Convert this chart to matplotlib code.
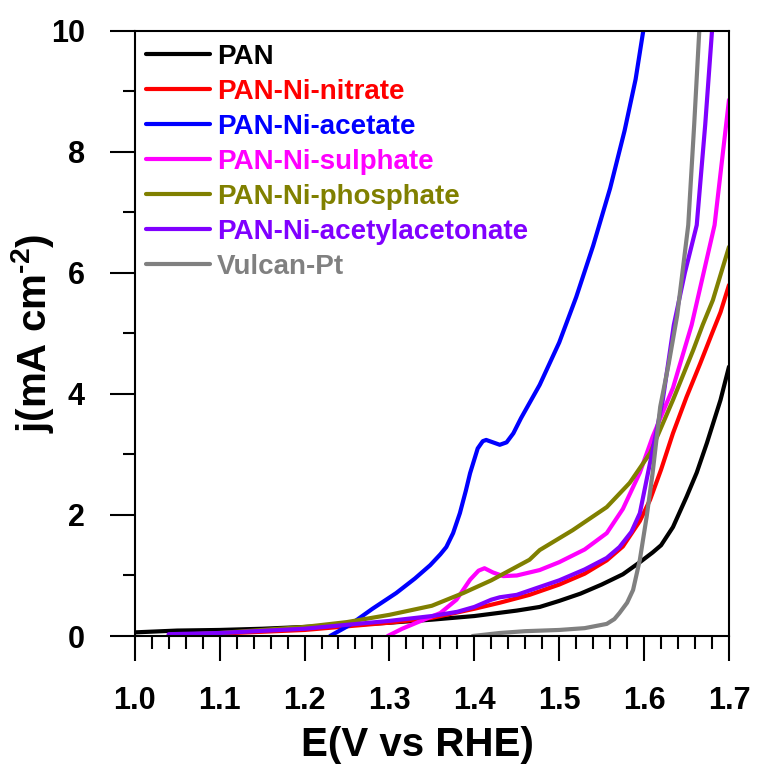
import matplotlib
matplotlib.use("Agg")
import matplotlib.pyplot as plt
from matplotlib.ticker import MultipleLocator, FormatStrFormatter

plt.rcParams['font.family'] = ['Liberation Sans', 'DejaVu Sans']
plt.rcParams['font.weight'] = 'bold'
plt.rcParams['mathtext.fontset'] = 'custom'
plt.rcParams['mathtext.rm'] = 'Liberation Sans'
plt.rcParams['mathtext.bf'] = 'Liberation Sans:bold'
plt.rcParams['mathtext.default'] = 'bf'

# === datos (E en V vs RHE, j en mA cm-2) ===
E_pan = [1.0, 1.05, 1.1, 1.15, 1.2, 1.25, 1.3, 1.35, 1.4, 1.45, 1.477, 1.5,
         1.525, 1.55, 1.575, 1.595, 1.61, 1.62, 1.634, 1.65, 1.662, 1.674,
         1.69, 1.7]
j_pan = [0.06, 0.09, 0.1, 0.12, 0.15, 0.18, 0.22, 0.27, 0.33, 0.42, 0.48, 0.58,
         0.7, 0.85, 1.02, 1.22, 1.38, 1.5, 1.8, 2.3, 2.7, 3.19,
         3.9, 4.45]

E_nitrate = [1.04, 1.1, 1.2, 1.3, 1.35, 1.4, 1.43, 1.465, 1.5, 1.53, 1.556, 1.575,
             1.595, 1.607, 1.62, 1.634, 1.65, 1.666, 1.68, 1.69, 1.7]
j_nitrate = [0.02, 0.04, 0.1, 0.22, 0.3, 0.45, 0.55, 0.68, 0.85, 1.03, 1.25, 1.48,
             1.9, 2.25, 2.75, 3.35, 3.95, 4.5, 5.0, 5.35, 5.8]

E_acetate = [1.23, 1.253, 1.28, 1.308, 1.33, 1.348, 1.36, 1.367, 1.375, 1.383,
             1.39, 1.395, 1.404, 1.41, 1.414, 1.422, 1.43, 1.438, 1.446, 1.455,
             1.465, 1.477, 1.5, 1.52, 1.54, 1.56, 1.577, 1.59, 1.599]
j_acetate = [0.0, 0.18, 0.45, 0.71, 0.95, 1.17, 1.35, 1.47, 1.7, 2.03,
             2.4, 2.69, 3.1, 3.22, 3.24, 3.2, 3.16, 3.2, 3.35, 3.6,
             3.85, 4.15, 4.85, 5.6, 6.45, 7.4, 8.35, 9.2, 10.0]

E_sulphate = [1.298, 1.315, 1.332, 1.36, 1.379, 1.395, 1.405, 1.412, 1.422, 1.434,
              1.45, 1.465, 1.477, 1.5, 1.53, 1.556, 1.575, 1.595, 1.61, 1.634,
              1.656, 1.683, 1.7]
j_sulphate = [0.0, 0.12, 0.22, 0.38, 0.6, 0.93, 1.08, 1.12, 1.05, 0.99,
              1.0, 1.05, 1.09, 1.22, 1.43, 1.7, 2.1, 2.7, 3.29, 4.1,
              5.14, 6.79, 8.86]

E_phosphate = [1.05, 1.1, 1.15, 1.2, 1.25, 1.3, 1.35, 1.387, 1.42, 1.465, 1.477,
               1.516, 1.556, 1.583, 1.607, 1.634, 1.658, 1.669, 1.681, 1.7]
j_phosphate = [0.02, 0.05, 0.1, 0.15, 0.23, 0.35, 0.5, 0.71, 0.92, 1.26, 1.42,
               1.75, 2.13, 2.53, 3.02, 3.9, 4.73, 5.14, 5.55, 6.43]

E_acac = [1.04, 1.1, 1.2, 1.3, 1.35, 1.38, 1.4, 1.42, 1.43, 1.45, 1.477, 1.5,
          1.53, 1.556, 1.571, 1.585, 1.595, 1.61, 1.622, 1.635, 1.648, 1.662,
          1.672, 1.68]
j_acac = [0.03, 0.05, 0.12, 0.25, 0.33, 0.4, 0.48, 0.6, 0.64, 0.68, 0.81, 0.92,
          1.1, 1.29, 1.47, 1.72, 2.03, 3.07, 3.9, 5.14, 6.0, 6.79,
          8.45, 10.0]

E_pt = [1.398, 1.43, 1.46, 1.5, 1.53, 1.556, 1.565, 1.571, 1.58, 1.587, 1.595,
        1.603, 1.61, 1.619, 1.629, 1.639, 1.652, 1.659, 1.665]
j_pt = [0.0, 0.05, 0.08, 0.1, 0.13, 0.2, 0.28, 0.38, 0.55, 0.76, 1.26,
        1.97, 2.69, 3.79, 4.5, 5.3, 6.79, 8.45, 10.0]

series = [
    ('PAN', E_pan, j_pan, 'black'),
    ('PAN-Ni-nitrate', E_nitrate, j_nitrate, '#ff0000'),
    ('PAN-Ni-acetate', E_acetate, j_acetate, '#0000ff'),
    ('PAN-Ni-sulphate', E_sulphate, j_sulphate, '#ff00ff'),
    ('PAN-Ni-phosphate', E_phosphate, j_phosphate, '#808000'),
    ('PAN-Ni-acetylacetonate', E_acac, j_acac, '#8000ff'),
    ('Vulcan-Pt', E_pt, j_pt, '#808080'),
]

fig = plt.figure(figsize=(7.57, 7.66), dpi=100)
ax = fig.add_axes([0.178, 0.1697, 0.785, 0.79])

for nombre, E, j, c in series:
    ax.plot(E, j, color=c, lw=3, label=nombre,
            solid_capstyle='round', solid_joinstyle='round')

ax.set_xlim(1.0, 1.7)
ax.set_ylim(0, 10)
ax.xaxis.set_major_locator(MultipleLocator(0.1))
ax.xaxis.set_minor_locator(MultipleLocator(0.02))
ax.yaxis.set_major_locator(MultipleLocator(2))
ax.yaxis.set_minor_locator(MultipleLocator(1))
ax.xaxis.set_major_formatter(FormatStrFormatter('%.1f'))

ax.tick_params(which='major', direction='out', length=18, width=1.5,
               labelsize=22, pad=18, top=False, right=False)
ax.tick_params(which='minor', direction='out', length=9, width=1.5,
               top=False, right=False)
for s in ax.spines.values():
    s.set_linewidth(1.5)

ax.set_xlabel('E(V vs RHE)', fontsize=29, fontweight='bold')
ax.set_ylabel('j(mA cm$^{\\text{-2}}$)', fontsize=29, fontweight='bold')
ax.xaxis.set_label_coords(0.476, -0.148)
ax.yaxis.set_label_coords(-0.132, 0.5)

leg = ax.legend(loc='upper left', bbox_to_anchor=(0.0185, 0.978), frameon=False,
                prop={'weight': 'bold', 'size': 20}, handlelength=2.3,
                handletextpad=0.26, labelspacing=0.32, borderpad=0,
                borderaxespad=0)
for txt, (_, _, _, c) in zip(leg.get_texts(), series):
    txt.set_color(c)

fig.savefig('out.png', dpi=100)
